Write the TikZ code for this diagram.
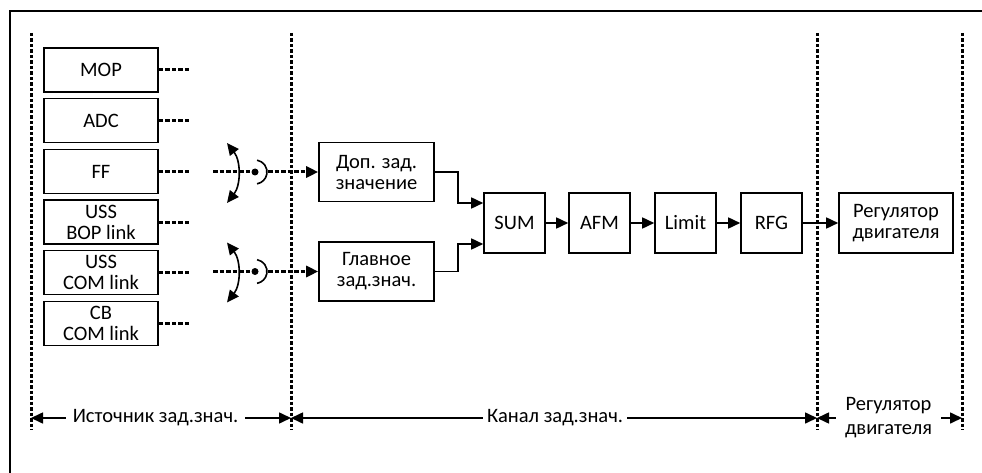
\documentclass[tikz,border=0pt]{standalone}
\usepackage{fontspec}
\setmainfont{Carlito}
\usetikzlibrary{arrows.meta}
\newcommand\fsz{\fontsize{20.5}{21}\selectfont}
\begin{document}
\begin{tikzpicture}[x=1pt,y=-1pt,
  lbox/.style={draw, line width=1.6pt, minimum width=114pt, minimum height=44pt, inner sep=0pt, align=center, font=\fsz},
  wbox/.style={draw, line width=1.6pt, minimum width=115pt, minimum height=59pt, inner sep=0pt, align=center, font=\fsz},
  sbox/.style={draw, line width=1.6pt, minimum width=61pt, minimum height=60pt, inner sep=0pt, align=center, font=\fsz},
  vdots/.style={line width=3pt, dash pattern=on 3.5pt off 2pt},
  hdots/.style={line width=3pt, dash pattern=on 4.5pt off 2pt},
  conn/.style={line width=1.6pt},
  tip/.tip={Triangle[length=12pt,width=11pt]},
  lab/.style={fill=white, inner ysep=2pt, inner xsep=7pt, align=center, font=\fsz},
  dotn/.style={circle, fill, inner sep=0pt, minimum size=7pt}
]
\useasboundingbox (0,0) rectangle (982,473);
% frame
\draw[line width=2pt] (10,473) -- (10,11) -- (982,11);
% vertical dotted separators
\coordinate (v1t) at (31,33);  \coordinate (v1b) at (31,430);
\coordinate (v2t) at (291,33); \coordinate (v2b) at (291,430);
\coordinate (v3t) at (817,33); \coordinate (v3b) at (817,430);
\coordinate (v4t) at (962,33); \coordinate (v4b) at (962,430);
\foreach \i in {1,2,3,4} \draw[vdots] (v\i t) -- (v\i b);
% source boxes
\node[lbox] (mop) at (101,70) {MOP};
\node[lbox] (adc) at (101,120.5) {ADC};
\node[lbox] (ff) at (101,171.5) {FF};
\node[lbox] (ussbop) at (101,222) {USS\\BOP link};
\node[lbox] (usscom) at (101,272.5) {USS\\COM link};
\node[lbox] (cbcom) at (101,323.5) {CB\\COM link};
\foreach \n/\y in {mop/70,adc/120.5,ff/171.5,ussbop/222,usscom/272.5,cbcom/323.5}{
  \coordinate (\n s) at (191,\y);
  \draw[hdots] (\n.east) -- (\n s);
}
% channel boxes
\node[wbox] (dop) at (376.5,172) {Доп. зад.\\значение};
\node[wbox] (main) at (376.5,271.5) {Главное\\зад.знач.};
\node[sbox] (sum) at (514.5,223) {SUM};
\node[sbox] (afm) at (599.5,223) {AFM};
\node[sbox] (lim) at (685.5,223) {Limit};
\node[sbox] (rfg) at (771.5,223) {RFG};
\node[wbox, minimum width=114pt, minimum height=60pt] (reg) at (896,223) {Регулятор\\двигателя};
% switches
\foreach \k/\y/\b in {1/172/dop,2/271.5/main}{
  \coordinate (w\k) at (213,\y);
  \node[dotn] (d\k) at (255,\y) {};
  \coordinate (a\k) at (268,\y);
  \draw[hdots] (w\k) -- (d\k.center);
  \draw[conn] (d\k.center) ++(-80:12) arc[start angle=-80, end angle=80, radius=12];
  \draw[hdots,-tip] (a\k) -- (\b.west);
  \coordinate (ct\k) at (227,\y-29);
  \coordinate (cb\k) at (227,\y+31);
  \draw[conn,tip-tip] (ct\k) .. controls (241,\y-11) and (241,\y+13) .. (cb\k);
}
% channel connections
\coordinate (j1) at (458,172); \coordinate (j2) at (458,203);
\coordinate (j3) at (458,271.5); \coordinate (j4) at (458,244);
\draw[conn,-tip] (dop.east) -- (j1) -- (j2) -- (sum.west |- j2);
\draw[conn,-tip] (main.east) -- (j3) -- (j4) -- (sum.west |- j4);
\draw[conn,-tip] (sum) -- (afm);
\draw[conn,-tip] (afm) -- (lim);
\draw[conn,-tip] (lim) -- (rfg);
\draw[conn,-tip] (rfg) -- (reg);
% dimension lines
\coordinate (dl1) at (31,418); \coordinate (dl2) at (291,418);
\coordinate (dl3) at (817,418); \coordinate (dl4) at (962,418);
\draw[conn,tip-tip] (dl1) -- node[lab, pos=0.479] (t1) {Источник зад.знач.} (dl2);
\draw[conn,tip-tip] (dl2) -- node[lab, pos=0.502, inner xsep=4pt] (t2) {Канал зад.знач.} (dl3);
\draw[conn,tip-tip] (dl3) -- node[lab, pos=0.493, inner xsep=9pt, font=\fontsize{20.5}{24}\selectfont] (t3) {Регулятор\\двигателя} (dl4);
\end{tikzpicture}
\end{document}
